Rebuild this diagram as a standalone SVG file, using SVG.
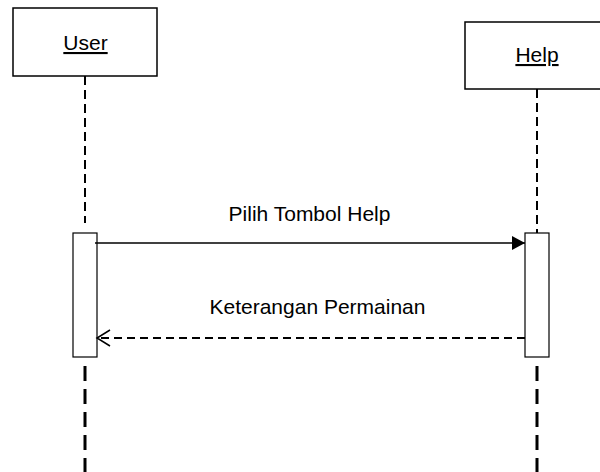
<svg xmlns="http://www.w3.org/2000/svg" width="600" height="472" viewBox="0 0 600 472">
  <style>
    .box { fill: #fff; stroke: #000; stroke-width: 1.5; }
    .act { fill: #fff; stroke: #000; stroke-width: 1.2; }
    .label { font-family: "Liberation Sans", Arial, sans-serif; font-size: 21px; fill: #000; text-anchor: middle; }
    .life-top { stroke: #000; stroke-width: 2; stroke-dasharray: 9 5; fill: none; }
    .life-bot { stroke: #000; stroke-width: 3; stroke-dasharray: 15 8; fill: none; }
    .msg { stroke: #000; stroke-width: 1.5; fill: none; }
    .ret { stroke: #000; stroke-width: 2; stroke-dasharray: 8 5; fill: none; }
  </style>
  <defs>
    <marker id="solidHead" markerWidth="14" markerHeight="14" refX="13" refY="7" orient="auto" markerUnits="userSpaceOnUse">
      <path d="M0,0 L13,7 L0,14 Z" fill="#000"/>
    </marker>
    <marker id="openHead" markerWidth="16" markerHeight="18" refX="14" refY="9" orient="auto" markerUnits="userSpaceOnUse">
      <path d="M1,1 L14,9 L1,17" fill="none" stroke="#000" stroke-width="1.5"/>
    </marker>
  </defs>
  <rect width="600" height="472" fill="#fff"/>

  <g id="user">
    <rect class="box" x="13" y="8" width="144" height="68"/>
    <text class="label" x="85.5" y="50" text-decoration="underline">User</text>
    <rect class="act" x="73" y="233" width="24" height="124"/>
  </g>

  <g id="help">
    <rect class="box" x="465" y="22" width="144" height="67"/>
    <text class="label" x="537" y="62" text-decoration="underline">Help</text>
    <rect class="act" x="525" y="233" width="24" height="124"/>
  </g>

  <!-- lifelines and messages -->
  <g id="connectors">
    <line class="life-top" x1="85" y1="76" x2="85" y2="223"/>
    <line class="life-bot" x1="85" y1="366" x2="85" y2="472"/>
    <line class="life-top" x1="537" y1="89" x2="537" y2="233"/>
    <line class="life-bot" x1="537" y1="366" x2="537" y2="472"/>
    <line class="msg" x1="95" y1="243" x2="525" y2="243" marker-end="url(#solidHead)"/>
    <line class="ret" x1="525" y1="338" x2="97" y2="338" marker-end="url(#openHead)"/>
  </g>

  <g id="labels">
    <text class="label" x="309.5" y="221">Pilih Tombol Help</text>
    <text class="label" x="317.5" y="314">Keterangan Permainan</text>
  </g>
</svg>
